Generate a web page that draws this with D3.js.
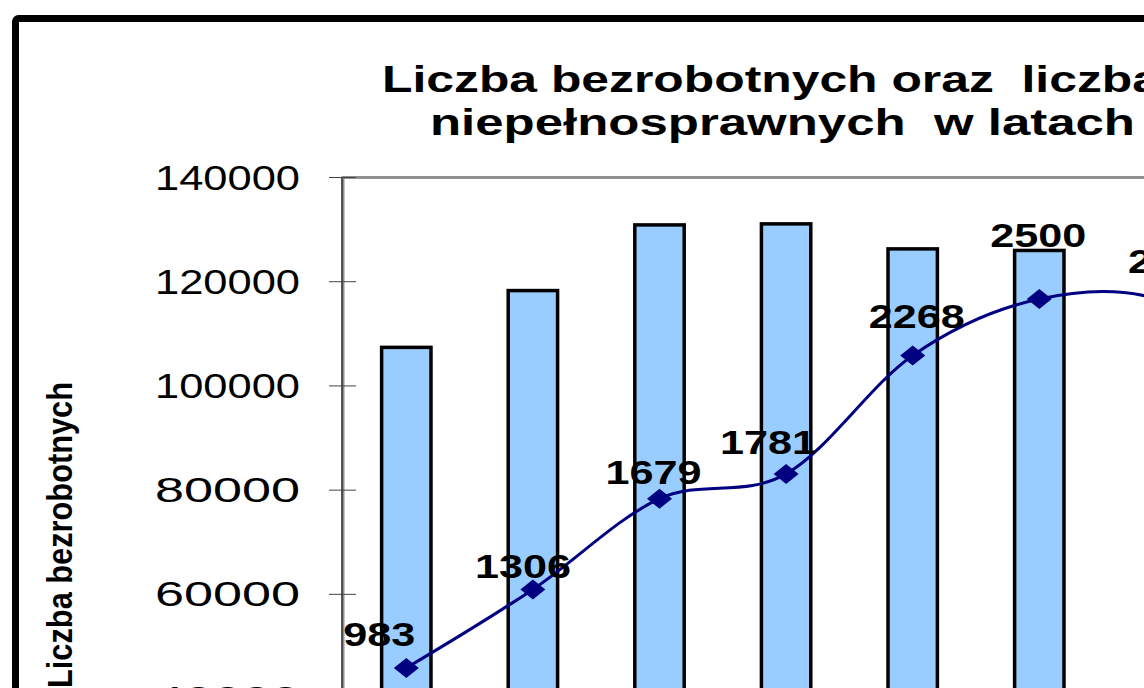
<!DOCTYPE html>
<html>
<head>
<meta charset="utf-8">
<script src="https://cdn.jsdelivr.net/npm/d3@7"></script>
<style>
	body { margin: 0; background: #fff; overflow: hidden; }
	text { font-family: Arial, "Liberation Sans", sans-serif; }
</style>
</head>
<body>
<script>
const YEARS = ['2001', '2002', '2003', '2004', '2005', '2006', '2007', '2008'];
const UNEMPLOYED = [107400, 118300, 130900, 131100, 126300, 126000];
const DISABLED = [983, 1306, 1679, 1781, 2268, 2500, 2490, 2150];
const LEFT_TICKS = [40000, 60000, 80000, 100000, 120000, 140000];
// hand placed label offsets (dx, dy) from each marker
const LABEL_DX = [-27, -10, -6, -18, 4, -1, 10, 0];
const LABEL_DY = [-22, -11, -15, -20, -27, -52, -29, -20];

let svg = d3.select('body').append('svg')
	.attr('width', 1144)
	.attr('height', 688);

svg.append('rect')
	.attr('x', 15.5)
	.attr('y', 18.5)
	.attr('width', 1300)
	.attr('height', 900)
	.attr('rx', 3)
	.attr('fill', '#fff')
	.attr('stroke', '#000')
	.attr('stroke-width', 7);

let title = svg.append('g')
	.attr('font-weight', 'bold')
	.attr('font-size', 37);
title.append('text')
	.attr('x', 382)
	.attr('y', 92)
	.attr('textLength', 778)
	.attr('lengthAdjust', 'spacingAndGlyphs')
	.attr('xml:space', 'preserve')
	.text('Liczba bezrobotnych oraz  liczba');
title.append('text')
	.attr('x', 430)
	.attr('y', 135)
	.attr('textLength', 705)
	.attr('lengthAdjust', 'spacingAndGlyphs')
	.attr('xml:space', 'preserve')
	.text('niepełnosprawnych  w latach');

let plotLeft = 343, plotTop = 177.5, plotBottom = 907;

let x = d3.scaleBand()
	.domain(YEARS)
	.range([plotLeft, plotLeft + 126.6 * YEARS.length])
	.paddingInner(0.61)
	.paddingOuter(0.305);

let yLeft = d3.scaleLinear().domain([0, 140000]).range([plotBottom, plotTop]);
let yRight = d3.scaleLinear().domain([0, 3000]).range([plotBottom, plotTop]);

// plot area frame
svg.append('rect')
	.attr('x', plotLeft)
	.attr('y', plotTop)
	.attr('width', 1200)
	.attr('height', 800)
	.attr('fill', 'none')
	.attr('stroke', '#909090')
	.attr('stroke-width', 3);

svg.append('line')
	.attr('x1', plotLeft - 1).attr('x2', plotLeft - 1)
	.attr('y1', plotTop).attr('y2', 700)
	.attr('stroke', '#333')
	.attr('stroke-width', 1.5);

let ticks = svg.append('g').selectAll('g')
	.data(LEFT_TICKS)
	.enter()
	.append('g');

ticks.append('line')
	.attr('x1', 329)
	.attr('x2', 356)
	.attr('y1', d => yLeft(d))
	.attr('y2', d => yLeft(d))
	.attr('stroke', '#444')
	.attr('stroke-width', 1);

ticks.append('text')
	.attr('x', 300)
	.attr('y', d => yLeft(d) + 12)
	.attr('text-anchor', 'end')
	.attr('font-size', 35)
	.attr('textLength', 145)
	.attr('lengthAdjust', 'spacingAndGlyphs')
	.text(d => d);

svg.append('text')
	.attr('transform', 'translate(72, 688) rotate(-90)')
	.attr('font-size', 35)
	.attr('font-weight', 'bold')
	.attr('textLength', 306)
	.attr('lengthAdjust', 'spacingAndGlyphs')
	.text('Liczba bezrobotnych');

// bars
svg.append('g').selectAll('rect')
	.data(UNEMPLOYED)
	.enter()
	.append('rect')
	.attr('x', (d, i) => x(YEARS[i]))
	.attr('y', d => yLeft(d))
	.attr('width', x.bandwidth())
	.attr('height', d => plotBottom - yLeft(d))
	.attr('fill', '#99ccff')
	.attr('stroke', '#000')
	.attr('stroke-width', 3.5);

let cx = i => x(YEARS[i]) + x.bandwidth() / 2;

let line = d3.line()
	.x((d, i) => cx(i))
	.y(d => yRight(d))
	.curve(d3.curveCardinal.tension(0));

svg.append('path')
	.datum(DISABLED)
	.attr('d', line)
	.attr('fill', 'none')
	.attr('stroke', '#000080')
	.attr('stroke-width', 3);

svg.append('g').selectAll('path')
	.data(DISABLED)
	.enter()
	.append('path')
	.attr('d', (d, i) => {
		let px = cx(i), py = yRight(d);
		return `M${px - 12.5},${py}L${px},${py - 10}L${px + 12.5},${py}L${px},${py + 10}Z`;
	})
	.attr('fill', '#000080');

svg.append('g').selectAll('text')
	.data(DISABLED)
	.enter()
	.append('text')
	.attr('x', (d, i) => cx(i) + LABEL_DX[i])
	.attr('y', (d, i) => yRight(d) + LABEL_DY[i])
	.attr('text-anchor', 'middle')
	.attr('font-size', 33)
	.attr('font-weight', 'bold')
	.attr('textLength', d => String(d).length * 24)
	.attr('lengthAdjust', 'spacingAndGlyphs')
	.text(d => d);
</script>
</body>
</html>
